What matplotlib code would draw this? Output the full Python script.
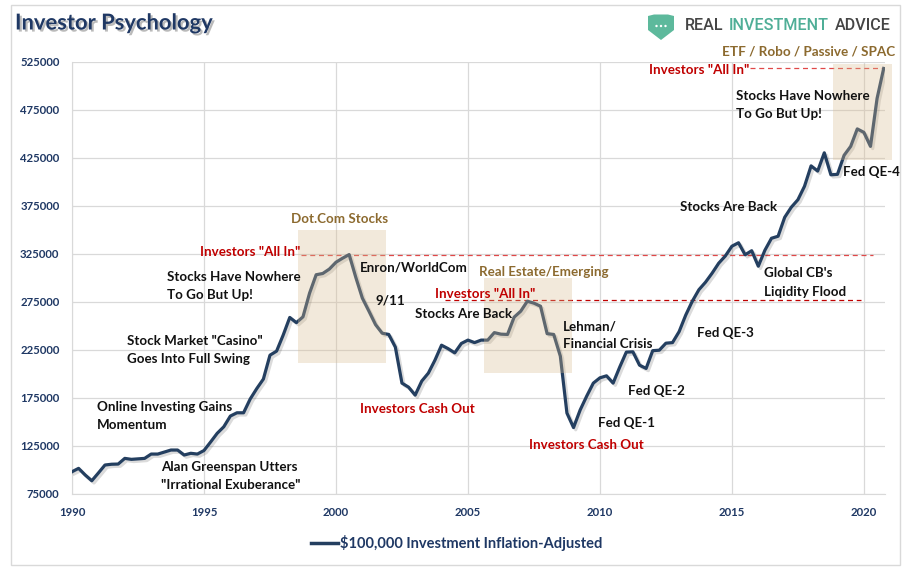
import matplotlib
matplotlib.use("Agg")
import matplotlib.pyplot as plt
import matplotlib.patheffects as pe
from matplotlib.patches import Rectangle, Polygon, Circle
from matplotlib.lines import Line2D

plt.rcParams['font.family'] = ['Lato', 'DejaVu Sans']

# quarterly values, 1990 Q1 .. 2020 Q4
start_year = 1990
values = [
    98200, 101700, 94800, 88800,      # 1990
    96900, 105200, 106000, 106200,    # 1991
    112100, 111100, 111600, 112100,   # 1992
    116600, 116600, 118700, 120800,   # 1993
    120800, 115600, 117400, 116600,   # 1994
    120300, 129100, 138200, 145000,   # 1995
    156200, 159600, 159600, 173900,   # 1996
    184800, 194700, 219600, 223800,   # 1997
    240500, 258900, 253500, 259500,   # 1998
    284200, 303400, 304700, 309300,   # 1999
    316400, 320600, 324400, 300800,   # 2000
    279000, 265400, 251400, 242500,   # 2001
    241200, 228000, 190500, 186300,   # 2002
    178000, 192600, 200900, 214400,   # 2003
    230000, 226400, 222000, 231800,   # 2004
    235300, 232700, 235300, 235300,   # 2005
    243100, 241500, 241200, 259200,   # 2006
    265400, 275800, 273800, 270600,   # 2007
    242000, 241200, 218600, 159300,   # 2008
    144200, 162400, 177000, 190500,   # 2009
    196000, 198100, 190500, 207200,   # 2010
    222800, 223100, 209200, 205800,   # 2011
    224300, 224800, 232100, 232700,   # 2012
    244100, 261300, 275800, 287800,   # 2013
    295600, 305000, 315400, 322900,   # 2014
    333100, 336700, 324200, 328400,   # 2015
    312300, 328900, 341400, 343500,   # 2016
    363200, 373700, 381500, 395500,   # 2017
    416800, 411400, 430400, 407500,   # 2018
    408000, 427800, 437100, 455300,   # 2019
    451700, 437100, 487100, 518300,   # 2020
]
years = [start_year + i * 0.25 for i in range(len(values))]

y_ticks = list(range(75000, 525001, 50000))
x_ticks = [1990, 1995, 2000, 2005, 2010, 2015, 2020]
series_name = "$100,000 Investment Inflation-Adjusted"

navy = '#243F60'
label_blue = '#1F3864'
red = '#C00000'
light_red = '#E04848'
brown = '#8C6A2F'
beige = '#D9BC90'

W, H = 906, 569
fig = plt.figure(figsize=(W / 100, H / 100), dpi=100)
ax = fig.add_axes([72 / W, 1 - 494 / H, (885 - 72) / W, (494 - 62) / H])

ax.plot(years, values, color=navy, lw=2.3, solid_joinstyle='round', zorder=3,
        path_effects=[pe.SimpleLineShadow(offset=(1.6, -1.6), shadow_color='k', alpha=0.14),
                      pe.Normal()])

ax.set_xlim(1990, 2020.8)
ax.set_ylim(75000, 525000)
ax.set_yticks(y_ticks)
ax.set_yticklabels([str(v) for v in y_ticks])
ax.set_xticks(x_ticks)
ax.grid(True, color='#D9D9D9', lw=0.9)
ax.set_axisbelow(True)
for s in ['top', 'right']:
    ax.spines[s].set_visible(False)
for s in ['left', 'bottom']:
    ax.spines[s].set_color('#D9D9D9')
ax.tick_params(length=0, labelsize=8.2, labelcolor=label_blue)
ax.tick_params(axis='y', pad=9)
ax.tick_params(axis='x', pad=9)
for lab in ax.get_xticklabels() + ax.get_yticklabels():
    lab.set_fontweight('bold')

# shaded "bubble" boxes
for x0, x1, y0, y1 in [(1998.55, 2001.88, 211000, 349700),
                       (2005.6, 2008.93, 201200, 300500),
                       (2018.84, 2021.05, 423300, 522500)]:
    ax.add_patch(Rectangle((x0, y0), x1 - x0, y1 - y0, facecolor=beige, alpha=0.32,
                           edgecolor='none', zorder=4, clip_on=False))

# "all in" levels
peak_2000 = max(values[:48])
peak_2007 = max(values[60:76])
last = values[-1]
ax.plot([1998.67, 2020.34], [peak_2000, peak_2000], color=light_red, lw=0.9, ls=(0, (4, 3)), zorder=2)
ax.plot([2004.13, 2019.89], [peak_2007 + 1500, peak_2007 + 1500], color=red, lw=0.9, ls=(0, (4, 3)), zorder=2)
ax.plot([2015.68, 2020.72], [last, last], color=light_red, lw=0.9, ls=(0, (4, 3)), zorder=2, clip_on=False)


def note(x, y, lines, color='#111111', ha='left', size=9.6):
    for k, line in enumerate(lines):
        ax.annotate(line, (x, y), xytext=(0, -k * 13.0), textcoords='offset points',
                    ha=ha, va='center', color=color, fontsize=size, fontweight='bold',
                    annotation_clip=False, zorder=6)


note(1993.37, 103100, ["Alan Greenspan Utters", '"Irrational Exuberance"'])
note(1990.94, 165800, ["Online Investing Gains", "Momentum"])
note(1992.07, 234500, ['Stock Market "Casino"', "Goes Into Full Swing"])
note(1993.61, 301100, ["Stocks Have Nowhere", "To Go But Up!"])
note(1998.66, 326800, ['Investors "All In"'], color=red, ha='right')
note(2000.15, 361900, ["Dot.Com Stocks"], color=brown, ha='center')
note(2000.91, 310500, ["Enron/WorldCom"])
note(2001.48, 276100, ["9/11"])
note(2000.91, 163100, ["Investors Cash Out"], color=red)
note(2002.99, 263000, ["Stocks Are Back"])
note(2003.75, 283800, ['Investors "All In"'], color=red)
note(2007.88, 306300, ["Real Estate/Emerging"], color=brown, ha='center')
note(2008.59, 249800, ["Lehman/", "Financial Crisis"])
note(2007.32, 126000, ["Investors Cash Out"], color=red)
note(2009.94, 149200, ["Fed QE-1"])
note(2011.07, 182500, ["Fed QE-2"])
note(2013.66, 242200, ["Fed QE-3"])
note(2016.21, 304700, ["Global CB's", "Liqidity Flood"])
note(2013.03, 374000, ["Stocks Are Back"])
note(2019.19, 410400, ["Fed QE-4"])
note(2015.14, 489500, ["Stocks Have Nowhere", "To Go But Up!"])
note(2015.66, 517000, ['Investors "All In"'], color=red, ha='right')
note(2017.92, 536300, ["ETF / Robo / Passive / SPAC"], color=brown, ha='center', size=9.7)

# title
fig.text(15 / W, 1 - 23 / H, "Investor Psychology", fontsize=15.8, fontweight='bold',
         color=label_blue, va='center', ha='left',
         path_effects=[pe.SimplePatchShadow(offset=(1.5, -1.5), shadow_rgbFace='#777777', alpha=0.5),
                       pe.Normal()])

# logo
lax = fig.add_axes([646 / W, 1 - 42 / H, 30 / W, 29 / H])
lax.set_xlim(0, 30)
lax.set_ylim(0, 29)
lax.axis('off')
lax.add_patch(Polygon([(2, 26), (8, 27.5), (22, 27.5), (28, 26), (28, 12), (15, 2), (2, 12)],
                      closed=True, facecolor='#5DB99C', edgecolor='none'))
for cx in (10.5, 15, 19.5):
    lax.add_patch(Circle((cx, 16), 1.2, facecolor='white', edgecolor='none'))

logo_font = dict(fontsize=11.6, fontweight='medium', family=['Roboto', 'DejaVu Sans'])
t1 = fig.text(685 / W, 1 - 26 / H, "REAL", color='#454545', va='center', ha='left', **logo_font)
t2 = ax.annotate("INVESTMENT", xy=(1, 0), xycoords=t1, xytext=(4, 0), textcoords='offset points',
                 color='#4FAE97', va='bottom', ha='left', annotation_clip=False, **logo_font)
ax.annotate("ADVICE", xy=(1, 0), xycoords=t2, xytext=(4, 0), textcoords='offset points',
            color='#454545', va='bottom', ha='left', annotation_clip=False, **logo_font)

# legend
handle = Line2D([], [], color=navy, lw=2.5)
leg = fig.legend([handle], [series_name], loc='center', bbox_to_anchor=(457 / W, 1 - 543 / H),
                 frameon=False, handlelength=1.9, handletextpad=0.2)
for t in leg.get_texts():
    t.set_color(label_blue)
    t.set_fontweight('bold')
    t.set_fontsize(10.5)

# outer frame
fig.patches.append(Rectangle((11 / W, 4 / H), (900 - 11) / W, (565 - 5) / H, transform=fig.transFigure,
                             fill=False, edgecolor='#D9D9D9', lw=1))

fig.savefig('out.png', dpi=100)
